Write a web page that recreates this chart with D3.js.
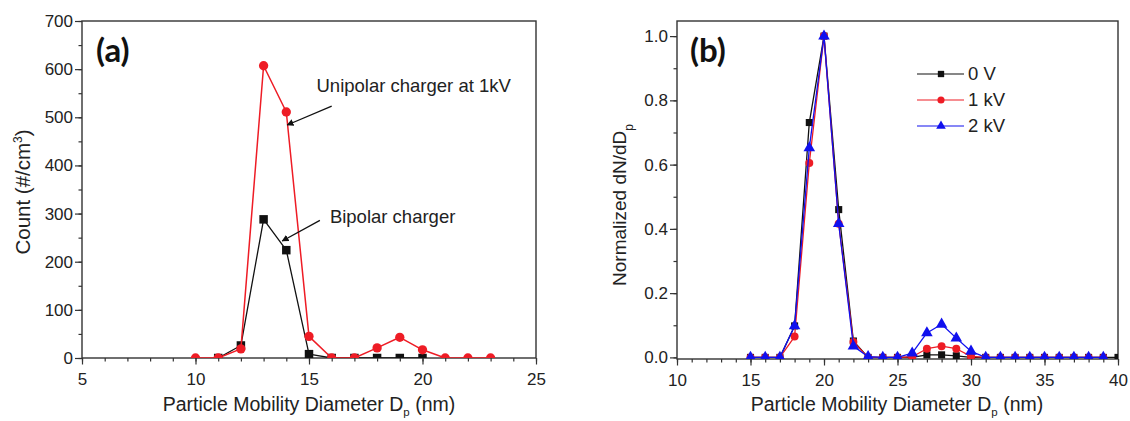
<!DOCTYPE html>
<html>
<head>
<meta charset="utf-8">
<script src="https://cdn.jsdelivr.net/npm/d3@7"></script>
<style>
  body { margin: 0; background: #fff; }
  svg { display: block; font-family: "Liberation Sans", Arial, sans-serif; }
</style>
</head>
<body>
<svg id="chart" width="1130" height="421"></svg>
<script>
// ---- Panel (a): particle number count vs. mobility diameter ----
const diamUni = [10, 11, 12, 13, 14, 15, 16, 17, 18, 19, 20, 21, 22, 23];
const countUni = [0, 0, 19, 607, 511, 45, 0, 0, 21, 43, 17, 0, 0, 0];
const diamBi = [11, 12, 13, 14, 15, 16, 17, 18, 19, 20];
const countBi = [0, 26, 288, 224, 8, 0, 0, 0, 0, 0];
const ticksXA = [5, 10, 15, 20, 25];
const ticksYA = [0, 100, 200, 300, 400, 500, 600, 700];

// ---- Panel (b): normalized size distribution at three voltages ----
const diam0V = [15, 16, 17, 18, 19, 20, 21, 22, 23, 24, 25, 26, 27, 28, 29, 30, 31, 32, 33, 34, 35, 36, 37, 38, 39, 40];
const norm0V = [0, 0, 0, 0.098, 0.731, 1.0, 0.46, 0.051, 0, 0, 0, 0, 0.008, 0.008, 0.005, 0, 0, 0, 0, 0, 0, 0, 0, 0, 0, 0];
const diamKV = [15, 16, 17, 18, 19, 20, 21, 22, 23, 24, 25, 26, 27, 28, 29, 30, 31, 32, 33, 34, 35, 36, 37, 38, 39];
const norm1kV = [0, 0, 0, 0.065, 0.605, 1.0, 0.416, 0.048, 0, 0, 0, 0.002, 0.027, 0.035, 0.027, 0.003, 0, 0, 0, 0, 0, 0, 0, 0, 0];
const norm2kV = [0, 0, 0, 0.098, 0.652, 1.0, 0.416, 0.035, 0.002, 0, 0, 0.013, 0.076, 0.103, 0.06, 0.019, 0, 0, 0, 0, 0, 0, 0, 0, 0];
const ticksXB = [10, 15, 20, 25, 30, 35, 40];
const ticksYB = [0, 0.2, 0.4, 0.6, 0.8, 1.0];
const legendLabels = ["0 V", "1 kV", "2 kV"];

const svg = d3.select("#chart");
const defs = svg.append("defs");
defs.append("marker")
  .attr("id", "arrowhead")
  .attr("viewBox", "0 0 10 10")
  .attr("refX", 9).attr("refY", 5)
  .attr("markerWidth", 7).attr("markerHeight", 7)
  .attr("markerUnits", "userSpaceOnUse")
  .attr("orient", "auto")
  .append("path").attr("d", "M0,0 L10,5 L0,10 z").attr("fill", "#111");

const AXIS = "#333";

function buildPanel(o) {
  const g = svg.append("g");
  const x = d3.scaleLinear().domain(o.xDomain).range([o.left, o.right]);
  const y = d3.scaleLinear().domain(o.yDomain).range([o.bottom, o.top]);

  defs.append("clipPath").attr("id", o.id)
    .append("rect")
    .attr("x", o.left).attr("y", o.top)
    .attr("width", o.right - o.left).attr("height", o.bottom - o.top);

  const styleAxis = sel => {
    sel.select(".domain").remove();
    sel.selectAll("line").attr("stroke", AXIS).attr("stroke-width", 1.2);
    sel.selectAll("text").attr("fill", "#222").attr("font-size", 17)
      .attr("font-family", "Liberation Sans, Arial, sans-serif");
  };

  // minor ticks
  g.append("g").attr("transform", `translate(0,${o.bottom})`)
    .call(d3.axisBottom(x).tickValues(o.xMinor).tickSize(3.5).tickFormat(""))
    .call(styleAxis);
  g.append("g").attr("transform", `translate(${o.left},0)`)
    .call(d3.axisLeft(y).tickValues(o.yMinor).tickSize(3.5).tickFormat(""))
    .call(styleAxis);
  // major ticks
  g.append("g").attr("transform", `translate(0,${o.bottom})`)
    .call(d3.axisBottom(x).tickValues(o.xTicks).tickSize(6.5).tickPadding(8).tickFormat(o.xFmt))
    .call(styleAxis);
  g.append("g").attr("transform", `translate(${o.left},0)`)
    .call(d3.axisLeft(y).tickValues(o.yTicks).tickSize(7).tickPadding(2).tickFormat(o.yFmt))
    .call(styleAxis);

  // frame
  g.append("rect")
    .attr("x", o.left).attr("y", o.top)
    .attr("width", o.right - o.left).attr("height", o.bottom - o.top)
    .attr("fill", "none").attr("stroke", AXIS).attr("stroke-width", 1.4);

  const plot = g.append("g").attr("clip-path", `url(#${o.id})`);
  return { g, plot, x, y };
}

function drawSeries(p, xs, ys, color, shape, size, width) {
  const pts = xs.map((d, i) => [d, ys[i]]);
  const line = d3.line().x(d => p.x(d[0])).y(d => p.y(d[1]));
  p.plot.append("path").datum(pts)
    .attr("d", line).attr("fill", "none")
    .attr("stroke", color).attr("stroke-width", width).attr("stroke-linejoin", "round");
  p.plot.append("g").selectAll("path").data(pts).join("path")
    .attr("transform", d => `translate(${p.x(d[0])},${p.y(d[1])})`)
    .attr("d", d3.symbol().type(shape).size(size))
    .attr("fill", color);
}

function xTitle(p, cx, cy) {
  const t = svg.append("text")
    .attr("x", cx).attr("y", cy)
    .attr("text-anchor", "middle").attr("font-size", 19.5).attr("fill", "#222");
  t.append("tspan").text("Particle Mobility Diameter D");
  t.append("tspan").attr("font-size", 11.5).attr("dy", 5).text("p");
  t.append("tspan").attr("dy", -5).text(" (nm)");
}

// ================= Panel (a) =================
const pa = buildPanel({
  id: "clipA", left: 82, right: 536, top: 21, bottom: 358,
  xDomain: [5, 25], yDomain: [0, 700],
  xTicks: ticksXA, yTicks: ticksYA,
  xMinor: d3.range(5, 26, 1), yMinor: d3.range(0, 701, 50),
  xFmt: d3.format("d"), yFmt: d3.format("d")
});
drawSeries(pa, diamBi, countBi, "#111", d3.symbolSquare, 72, 1.3);
drawSeries(pa, diamUni, countUni, "#ee1c25", d3.symbolCircle, 68, 1.5);

svg.append("text").attr("x", 96).attr("y", 62)
  .attr("font-family", "Lato, 'Open Sans', sans-serif").attr("font-weight", 700)
  .attr("font-size", 33).attr("fill", "#111").text("(a)");

// annotations placed in data units
function annotate(p, label, tx, ty, ax0, ay0, ax1, ay1) {
  svg.append("text").attr("x", p.x(tx)).attr("y", p.y(ty))
    .attr("font-size", 18.5).attr("fill", "#222").text(label);
  svg.append("line")
    .attr("x1", p.x(ax0)).attr("y1", p.y(ay0))
    .attr("x2", p.x(ax1)).attr("y2", p.y(ay1))
    .attr("stroke", "#111").attr("stroke-width", 1.3)
    .attr("marker-end", "url(#arrowhead)");
}
annotate(pa, "Unipolar charger at 1kV", 15.33, 553, 16.0, 523, 14.04, 484);
annotate(pa, "Bipolar charger", 15.92, 280, 15.48, 286, 13.82, 243);

xTitle(pa, 309, 411);
const yta = svg.append("text")
  .attr("transform", "translate(30,192) rotate(-90)")
  .attr("text-anchor", "middle").attr("font-size", 20.5).attr("fill", "#222");
yta.append("tspan").text("Count (#/cm");
yta.append("tspan").attr("font-size", 12).attr("dy", -8).text("3");
yta.append("tspan").attr("dy", 8).text(")");

// ================= Panel (b) =================
const pb = buildPanel({
  id: "clipB", left: 677, right: 1118, top: 21, bottom: 359,
  xDomain: [10, 40], yDomain: [-0.005, 1.047],
  xTicks: ticksXB, yTicks: ticksYB,
  xMinor: d3.range(10, 41, 1), yMinor: d3.range(0, 11, 1).map(v => v / 10),
  xFmt: d3.format("d"), yFmt: d3.format(".1f")
});
const seriesB = [
  { xs: diam0V, ys: norm0V, color: "#111", shape: d3.symbolSquare, size: 50 },
  { xs: diamKV, ys: norm1kV, color: "#ee1c25", shape: d3.symbolCircle, size: 50 },
  { xs: diamKV, ys: norm2kV, color: "#1010ee", shape: d3.symbolTriangle, size: 58 }
];
seriesB.forEach(s => drawSeries(pb, s.xs, s.ys, s.color, s.shape, s.size, 1.3));

svg.append("text").attr("x", 690).attr("y", 62)
  .attr("font-family", "Lato, 'Open Sans', sans-serif").attr("font-weight", 700)
  .attr("font-size", 33).attr("fill", "#111").text("(b)");

// legend
const leg = svg.append("g");
seriesB.forEach((s, i) => {
  const yy = 74 + i * 26;
  leg.append("line").attr("x1", 917).attr("x2", 964).attr("y1", yy).attr("y2", yy)
    .attr("stroke", s.color).attr("stroke-width", 1.2);
  leg.append("path").attr("transform", `translate(941,${yy})`)
    .attr("d", d3.symbol().type(s.shape).size(40)).attr("fill", s.color);
  leg.append("text").attr("x", 968).attr("y", yy).attr("dy", "0.35em")
    .attr("font-size", 18.5).attr("fill", "#222").text(legendLabels[i]);
});

xTitle(pb, 897, 411);
const ytb = svg.append("text")
  .attr("transform", "translate(626,205) rotate(-90)")
  .attr("text-anchor", "middle").attr("font-size", 19).attr("fill", "#222");
ytb.append("tspan").text("Normalized dN/dD");
ytb.append("tspan").attr("font-size", 12).attr("dy", 7).text("p");
</script>
</body>
</html>
